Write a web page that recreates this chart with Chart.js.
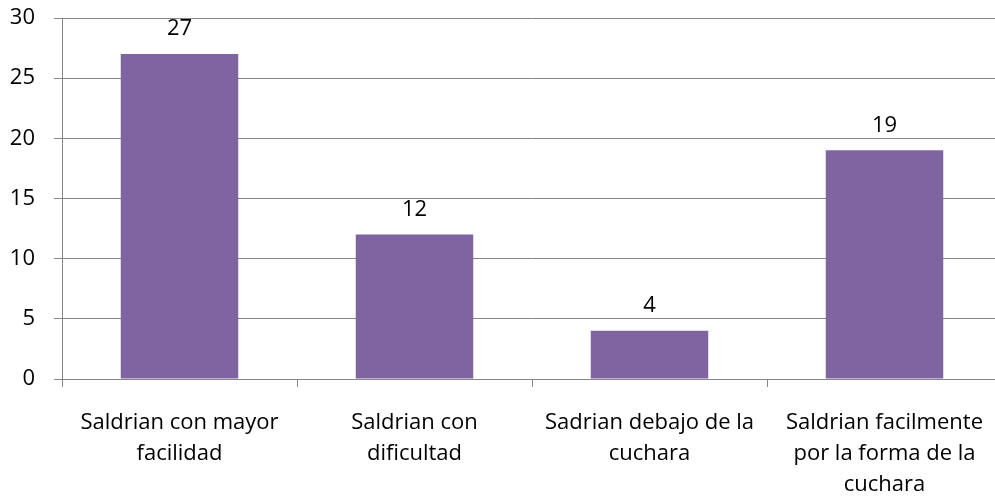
<!DOCTYPE html>
<html>
<head>
<meta charset="utf-8">
<script src="https://cdn.jsdelivr.net/npm/chart.js@4.4.0/dist/chart.umd.min.js"></script>
<style>
  html, body { margin: 0; padding: 0; background: #fff; overflow: hidden; }
  #wrap { width: 1010px; height: 499px; }
</style>
</head>
<body>
<div id="wrap"><canvas id="barChart" width="1010" height="499"></canvas></div>
<script>
// categories (wrapped the same way as the original)
const categories = [
    ['Saldrian con mayor', 'facilidad'],
    ['Saldrian con', 'dificultad'],
    ['Sadrian debajo de la', 'cuchara'],
    ['Saldrian facilmente', 'por la forma de la', 'cuchara']
];
const values = [27, 12, 4, 19];
const yTicks = [0, 5, 10, 15, 20, 25, 30];

const FONT = "'Open Sans', sans-serif";

// value labels above each bar
const barLabels = {
    id: 'barLabels',
    afterDatasetsDraw(chart) {
        const ctx = chart.ctx;
        const meta = chart.getDatasetMeta(0);
        ctx.save();
        ctx.font = '22px ' + FONT;
        ctx.fillStyle = '#000';
        ctx.textAlign = 'center';
        ctx.textBaseline = 'middle';
        meta.data.forEach(function (bar, i) {
            ctx.fillText(values[i], bar.x, bar.y - 25);
        });
        ctx.restore();
    }
};

var ctx = document.getElementById('barChart').getContext('2d');

new Chart(ctx, {
    type: 'bar',
    data: {
        labels: categories,
        datasets: [
            {
                data: values,
                backgroundColor: '#8064A2',
                barPercentage: 0.5,
                categoryPercentage: 1
            }
        ]
    },
    options: {
        responsive: false,
        animation: false,
        layout: { padding: { top: 18, right: 8, left: 0, bottom: 0 } },
        plugins: {
            legend: { display: false },
            tooltip: { enabled: false }
        },
        scales: {
            x: {
                offset: true,
                grid: {
                    offset: true,
                    drawOnChartArea: false,
                    drawTicks: true,
                    tickLength: 8,
                    color: '#868686'
                },
                border: { color: '#868686', width: 1 },
                ticks: {
                    color: '#000',
                    font: { family: FONT, size: 22, lineHeight: 1.41 },
                    padding: 20,
                    maxRotation: 0,
                    autoSkip: false
                },
                afterFit: function (scale) {
                    scale.height = 120;
                    scale.paddingLeft = 0;
                    scale.paddingRight = 0;
                }
            },
            y: {
                min: 0,
                max: 30,
                afterBuildTicks: function (scale) {
                    scale.ticks = yTicks.map(v => ({ value: v }));
                },
                grid: {
                    color: '#868686',
                    tickLength: 8
                },
                border: { color: '#868686', width: 1 },
                ticks: {
                    color: '#000',
                    font: { family: FONT, size: 22 },
                    padding: 19
                },
                afterFit: function (scale) {
                    scale.width = 62;
                    scale.paddingTop = 0;
                    scale.paddingBottom = 0;
                }
            }
        }
    },
    plugins: [barLabels]
});
</script>
</body>
</html>
